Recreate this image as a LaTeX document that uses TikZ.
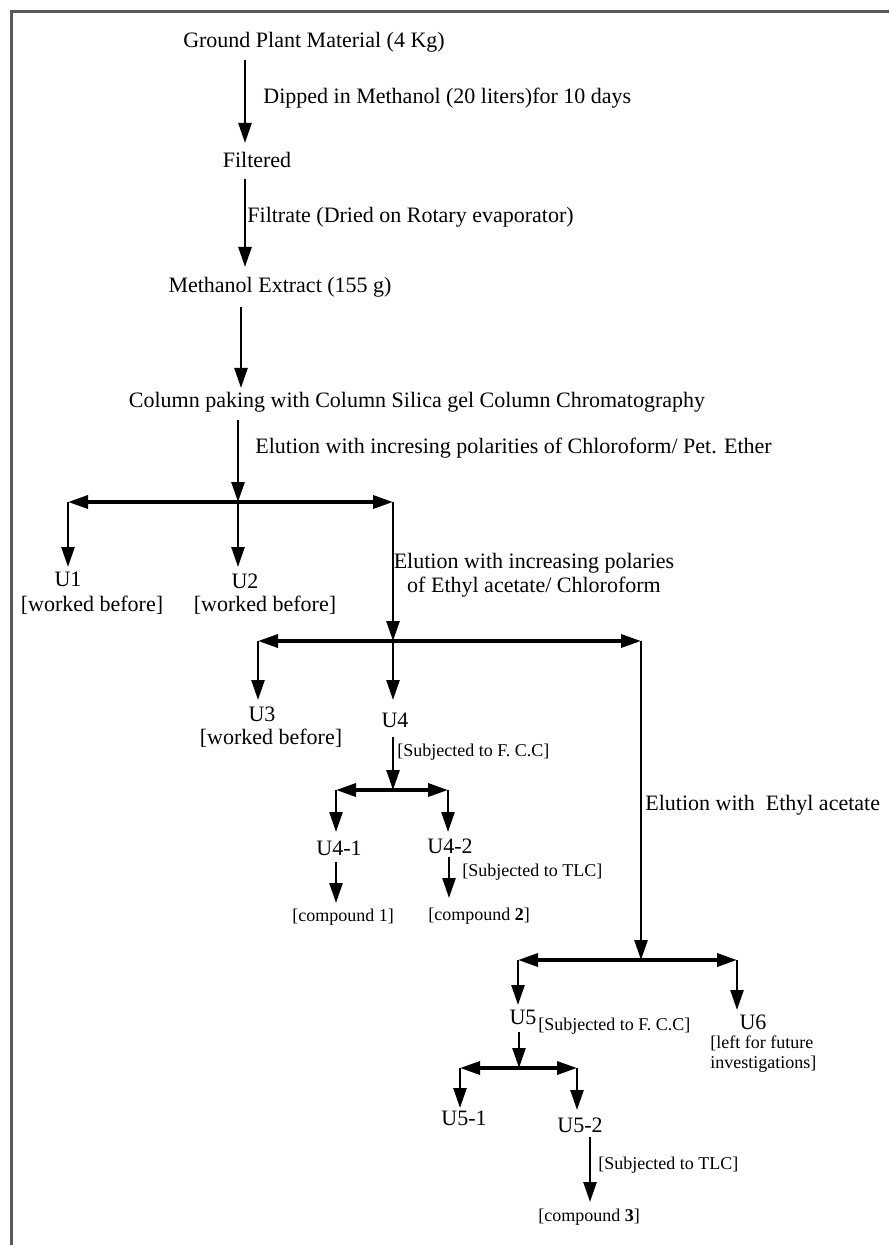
\documentclass[tikz,border=0pt]{standalone}
\usepackage{fontspec}
\setmainfont{Liberation Serif}
\usepackage{tkz-euclide}
\usetikzlibrary{arrows.meta}

\begin{document}
\begin{tikzpicture}[x=0.5pt,y=-0.5pt,
  maintxt/.style={font=\fontsize{11}{12}\selectfont,inner sep=0pt},
  smalltxt/.style={font=\fontsize{9}{10}\selectfont,inner sep=0pt},
  tipa/.tip={Triangle[length=10pt,width=6.5pt]},
  flow/.style={line width=1.3pt,-tipa},
  split/.style={line width=1.7pt,tipa-tipa}]
\useasboundingbox (0,0) rectangle (889,1245);
\draw[line width=1.5pt,black!65] (11,1245) -- (11,12) -- (889,12);
\tkzDefPoint(245,60){A_{1}}\tkzDefPoint(245,143){A_{2}}
\tkzDefPoint(245,179){B_{1}}\tkzDefPoint(245,267){B_{2}}
\tkzDefPoint(241,307){C_{1}}\tkzDefPoint(241,388){C_{2}}
\tkzDefPoint(238,420){D_{1}}\tkzDefPoint(238,502){D_{2}}
\tkzDefPoint(68,502){L_{1}}\tkzDefPoint(393,502){R_{1}}
\tkzDefPoint(68,567){U_{1}}\tkzDefPoint(238,567){U_{2}}
\tkzDefPoint(258,641){L_{2}}\tkzDefPoint(393,641){M_{2}}\tkzDefPoint(641,641){R_{2}}
\tkzDefPoint(258,700){U_{3}}\tkzDefPoint(393,700){U_{4}}
\tkzDefPoint(393,737){E_{1}}\tkzDefPoint(393,790){E_{2}}
\tkzDefPoint(336,790){L_{3}}\tkzDefPoint(448,790){R_{3}}
\tkzDefPoint(336,832){V_{1}}\tkzDefPoint(448,832){V_{2}}
\tkzDefPoint(336,862){F_{1}}\tkzDefPoint(336,903){F_{2}}
\tkzDefPoint(449,857){G_{1}}\tkzDefPoint(449,898){G_{2}}
\tkzDefPoint(518,960){L_{4}}\tkzDefPoint(641,960){M_{4}}\tkzDefPoint(737,960){R_{4}}
\tkzDefPoint(518,1005){U_{5}}\tkzDefPoint(737,1010){U_{6}}
\tkzDefPoint(519,1032){H_{1}}\tkzDefPoint(519,1068){H_{2}}
\tkzDefPoint(460,1068){L_{5}}\tkzDefPoint(577,1068){R_{5}}
\tkzDefPoint(460,1108){W_{1}}\tkzDefPoint(577,1110){W_{2}}
\tkzDefPoint(590,1137){K_{1}}\tkzDefPoint(590,1202){K_{2}}
\node[maintxt] (gpm) at (314,42) {Ground Plant Material (4 Kg)};
\node[maintxt,anchor=west] (dip) at (263,98) {Dipped in Methanol (20 liters)for 10 days};
\node[maintxt] (filt) at (257,160) {Filtered};
\node[maintxt,anchor=west] (rot) at (247,217) {Filtrate (Dried on Rotary evaporator)};
\node[maintxt] (mex) at (280,287) {Methanol Extract (155 g)};
\node[maintxt] (col) at (417,402) {Column paking with Column Silica gel Column Chromatography};
\node[maintxt,anchor=west] (elu1) at (255,448) {Elution with incresing polarities of Chloroform/ Pet. Ether};
\node[maintxt] (u1) at (68,579) {U1};\node[maintxt] (wb1) at (92,605) {[worked before]};
\node[maintxt] (u2) at (245,581) {U2};\node[maintxt] (wb2) at (265,605) {[worked before]};
\node[maintxt,align=center] (elu2) at (534,575) {Elution with increasing polaries\\ of Ethyl acetate/ Chloroform};
\node[maintxt] (u3) at (262,714) {U3};\node[maintxt] (wb3) at (271,738) {[worked before]};
\node[maintxt] (u4) at (395,720) {U4};
\node[smalltxt,anchor=west] (fcc1) at (397,752) {[Subjected to F. C.C]};
\node[maintxt] (u41) at (339,848) {U4-1};\node[maintxt] (u42) at (450,846) {U4-2};
\node[smalltxt,anchor=west] (tlc1) at (462,872) {[Subjected to TLC]};
\node[smalltxt] (cp1) at (343,917) {[compound 1]};
\node[smalltxt] (cp2) at (479,916) {[compound \textbf{2}]};
\node[maintxt,anchor=west] (elu3) at (645,805) {Elution with \ Ethyl acetate};
\node[maintxt] (u5) at (523,1017) {U5};
\node[smalltxt,anchor=west] (fcc2) at (538,1026) {[Subjected to F. C.C]};
\node[maintxt] (u6) at (753,1022) {U6};
\node[smalltxt,anchor=west,align=left] (fut) at (710,1054) {[left for future\\investigations]};
\node[maintxt] (u51) at (464,1118) {U5-1};\node[maintxt] (u52) at (580,1125) {U5-2};
\node[smalltxt,anchor=west] (tlc2) at (598,1165) {[Subjected to TLC]};
\node[smalltxt] (cp3) at (589,1217) {[compound \textbf{3}]};
\draw[flow] (A_{1}) -- (A_{2});\draw[flow] (B_{1}) -- (B_{2});
\draw[flow] (C_{1}) -- (C_{2});\draw[flow] (D_{1}) -- (D_{2});
\draw[split] (L_{1}) -- (R_{1});\draw[split] (L_{2}) -- (R_{2});\draw[split] (L_{3}) -- (R_{3});
\draw[split] (L_{4}) -- (R_{4});\draw[split] (L_{5}) -- (R_{5});
\draw[flow] (L_{1}) -- (U_{1});\draw[flow] (D_{2}) -- (U_{2});\draw[flow] (R_{1}) -- (M_{2});
\draw[flow] (L_{2}) -- (U_{3});\draw[flow] (M_{2}) -- (U_{4});\draw[flow] (R_{2}) -- (M_{4});
\draw[flow] (E_{1}) -- (E_{2});
\draw[flow] (L_{3}) -- (V_{1});\draw[flow] (R_{3}) -- (V_{2});
\draw[flow] (F_{1}) -- (F_{2});\draw[flow] (G_{1}) -- (G_{2});
\draw[flow] (L_{4}) -- (U_{5});\draw[flow] (R_{4}) -- (U_{6});\draw[flow] (H_{1}) -- (H_{2});
\draw[flow] (L_{5}) -- (W_{1});\draw[flow] (R_{5}) -- (W_{2});\draw[flow] (K_{1}) -- (K_{2});
\end{tikzpicture}
\end{document}
